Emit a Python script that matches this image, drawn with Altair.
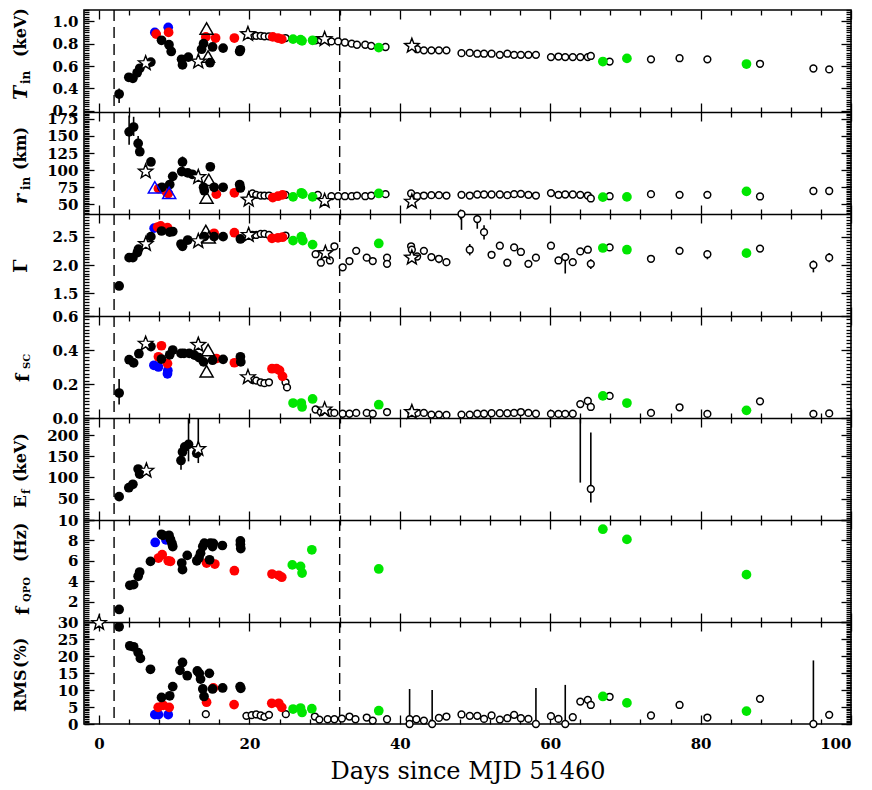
import altair as alt
import pandas as pd
import numpy as np

# ---------------- data ----------------
X_DOMAIN = [-2, 100]
DASHED_DAYS = [2, 32]
X_MAJOR = [0, 20, 40, 60, 80, 100]
X_MINOR = [d for d in range(0, 101, 4) if d % 20]

# T_in (keV)
TIN_K = [(2.67, 0.35), (3.96, 0.50), (4.5, 0.49), (5.07, 0.54), (5.42, 0.58), (6.89, 0.635),
         (8.31, 0.83), (9.3, 0.79), (9.6, 0.73), (10.98, 0.66), (11.1, 0.61), (11.87, 0.68),
         (13.64, 0.75), (13.9, 0.80), (14.76, 0.63), (15.1, 0.77), (16.5, 0.76), (18.7, 0.73), (18.8, 0.745)]
TIN_R = [(7.6, 0.885), (9.25, 0.90), (14.2, 0.86), (15.5, 0.85), (18.0, 0.85), (23.1, 0.86), (23.8, 0.85), (24.3, 0.84)]
TIN_B = [(7.42, 0.90), (9.2, 0.945)]
TIN_G = [(25.8, 0.84), (26.8, 0.835), (27.0, 0.825), (28.4, 0.83), (37.2, 0.765), (67.0, 0.64), (70.2, 0.668), (86.1, 0.618)]
TIN_O = [(20.4, 0.87), (20.9, 0.87), (21.5, 0.87), (22.0, 0.865), (22.6, 0.865), (24.8, 0.85), (28.8, 0.83), (29.5, 0.83),
         (30.9, 0.82), (31.8, 0.82), (32.7, 0.81), (33.6, 0.80), (34.3, 0.79), (35.4, 0.79), (36.2, 0.78), (38.1, 0.77),
         (42.3, 0.75), (43.2, 0.74), (44.2, 0.74), (45.2, 0.74), (46.2, 0.74), (48.2, 0.715), (49.3, 0.717), (50.3, 0.71),
         (51.2, 0.71), (52.2, 0.71), (53.3, 0.70), (54.3, 0.71), (55.2, 0.70), (56.1, 0.70), (57.1, 0.70), (58.1, 0.70),
         (60.1, 0.68), (61.1, 0.685), (62.0, 0.68), (63.0, 0.68), (64.0, 0.68), (65.0, 0.68), (65.4, 0.69), (67.9, 0.64),
         (73.4, 0.66), (77.2, 0.67), (80.9, 0.66), (87.9, 0.62), (95.0, 0.578), (97.1, 0.57)]
TIN_S = [(6.2, 0.625), (13.2, 0.64), (19.8, 0.885), (30.0, 0.84), (41.6, 0.78)]
TIN_T = [(14.3, 0.935), (14.5, 0.685)]
TIN_TB = []
TIN_ERR = [(2.67, 0.27, 0.40)]

# r_in (km)
RIN_K = [(4.0, 156), (4.6, 163), (5.2, 139), (5.42, 127), (6.9, 112), (8.36, 75), (9.4, 79), (9.8, 91),
         (11.0, 98), (11.1, 112), (11.8, 96), (12.4, 94), (13.9, 75), (14.0, 70), (14.8, 105), (15.3, 75),
         (16.5, 75), (18.7, 79), (18.8, 74)]
RIN_R = [(7.9, 73), (8.96, 68), (9.2, 66), (15.6, 65), (18.0, 67), (23.1, 60), (23.8, 62), (24.4, 64)]
RIN_B = []
RIN_G = [(25.8, 61), (26.9, 67), (27.1, 65), (28.4, 61), (37.2, 66), (67.0, 60.6), (70.2, 61), (86.1, 69)]
RIN_O = [(20.4, 66), (20.9, 64), (21.5, 63), (22.0, 63), (22.6, 63), (24.8, 64), (29.1, 64), (30.9, 62), (31.8, 62),
         (32.7, 62), (33.6, 62), (34.3, 63), (35.4, 62), (36.2, 63), (38.1, 65), (41.5, 66), (42.3, 62), (43.2, 63),
         (44.2, 63.5), (45.2, 63.5), (46.2, 63), (48.2, 64), (49.3, 63), (50.3, 64.5), (51.2, 64.5), (52.2, 64.5),
         (53.3, 64.5), (54.3, 63.5), (55.2, 65), (56.1, 65.5), (57.1, 64), (58.1, 63), (60.1, 66.5), (61.1, 64),
         (62.0, 64.5), (63.0, 64.5), (64.0, 64), (65.0, 63), (65.4, 58.7), (67.9, 62), (73.4, 65), (77.2, 64),
         (80.9, 64), (87.9, 61.6), (95.0, 69.6), (97.1, 69.6)]
RIN_S = [(6.2, 98), (13.2, 90), (19.9, 57), (30.0, 55), (41.6, 54)]
RIN_T = [(14.3, 60), (14.6, 86)]
RIN_TB = [(7.42, 75), (9.33, 67)]
RIN_ERR = [(4.0, 137, 180), (4.6, 150, 178), (5.2, 128, 150), (11.1, 104, 120)]

# Photon index Gamma
GAM_K = [(2.67, 1.63), (4.0, 2.13), (4.5, 2.13), (5.1, 2.22), (5.24, 2.28), (6.89, 2.50), (8.31, 2.60), (9.4, 2.58),
         (9.8, 2.59), (10.9, 2.37), (11.1, 2.33), (11.8, 2.44), (14.0, 2.50), (15.3, 2.50), (16.5, 2.50), (18.8, 2.46)]
GAM_R = [(7.8, 2.67), (8.2, 2.69), (9.1, 2.66), (15.3, 2.56), (18.0, 2.57), (23.0, 2.47), (23.8, 2.48), (24.4, 2.49)]
GAM_B = [(7.33, 2.65)]
GAM_G = [(25.8, 2.43), (26.9, 2.50), (27.1, 2.43), (28.4, 2.36), (37.2, 2.38), (67.0, 2.30), (70.2, 2.27), (86.1, 2.21)]
GAM_O = [(20.4, 2.53), (20.9, 2.53), (21.5, 2.55), (22.0, 2.55), (22.6, 2.53), (24.8, 2.52), (28.8, 2.19), (29.5, 2.04),
         (30.7, 2.08), (31.3, 2.33), (32.4, 1.96), (33.3, 2.07), (34.2, 2.25), (35.6, 2.13), (36.4, 2.07), (38.3, 2.13),
         (38.3, 2.02), (41.5, 2.33), (41.6, 2.27), (42.3, 2.15), (43.2, 2.25), (44.2, 2.14), (45.2, 2.11), (46.2, 2.05),
         (48.2, 2.90), (49.3, 2.27), (50.3, 2.81), (51.2, 2.58), (52.2, 2.18), (53.3, 2.34), (54.3, 2.04), (55.2, 2.31),
         (56.1, 2.23), (57.1, 2.02), (58.1, 2.13), (60.1, 2.34), (61.1, 2.08), (62.0, 2.14), (63.0, 2.05), (64.0, 2.24),
         (65.0, 2.27), (65.4, 2.02), (67.9, 2.31), (73.4, 2.11), (77.2, 2.25), (80.9, 2.19), (87.9, 2.29), (95.0, 2.00),
         (97.1, 2.13)]
GAM_S = [(6.22, 2.37), (13.2, 2.42), (19.9, 2.53), (30.1, 2.21), (41.6, 2.13)]
GAM_T = [(14.2, 2.60), (14.6, 2.49)]
GAM_TB = []
GAM_ERR = [(32.4, 1.90, 2.02), (45.2, 2.03, 2.17), (46.2, 1.98, 2.12), (48.2, 2.62, 2.92), (49.3, 2.17, 2.37),
           (50.3, 2.64, 2.90), (51.2, 2.45, 2.70), (62.0, 1.85, 2.20), (65.4, 1.93, 2.10), (77.2, 2.19, 2.32),
           (80.9, 2.10, 2.26), (95.0, 1.87, 2.08), (97.1, 2.05, 2.21)]

# scattered fraction f_SC
FSC_K = [(2.67, 0.147), (4.0, 0.343), (4.6, 0.324), (5.3, 0.378), (6.9, 0.42), (8.3, 0.347), (9.4, 0.372),
         (9.8, 0.40), (10.9, 0.38), (11.3, 0.38), (12.0, 0.38), (12.7, 0.37), (13.3, 0.355), (13.9, 0.33),
         (15.1, 0.34), (16.5, 0.345), (18.8, 0.36), (18.85, 0.33)]
FSC_R = [(7.9, 0.36), (8.3, 0.425), (9.1, 0.32), (15.6, 0.35), (18.0, 0.325), (23.0, 0.29), (23.6, 0.29), (24.0, 0.28), (24.4, 0.245)]
FSC_B = [(7.3, 0.31), (7.9, 0.30), (9.1, 0.26), (9.15, 0.28)]
FSC_G = [(25.8, 0.088), (26.9, 0.088), (27.0, 0.065), (28.4, 0.112), (37.2, 0.078), (67.0, 0.13), (70.2, 0.088), (86.1, 0.045)]
FSC_O = [(20.4, 0.225), (20.9, 0.22), (21.5, 0.21), (22.0, 0.205), (22.6, 0.21), (24.8, 0.21), (25.0, 0.18), (28.8, 0.05),
         (29.5, 0.035), (30.7, 0.03), (31.3, 0.03), (32.4, 0.025), (33.3, 0.025), (34.2, 0.03), (35.6, 0.03), (36.4, 0.025),
         (38.3, 0.035), (41.5, 0.035), (42.3, 0.03), (43.2, 0.03), (44.2, 0.02), (45.2, 0.02), (46.2, 0.018), (48.2, 0.02),
         (49.3, 0.02), (50.3, 0.025), (51.2, 0.025), (52.2, 0.028), (53.3, 0.028), (54.3, 0.028), (55.2, 0.03), (56.1, 0.035),
         (57.1, 0.03), (58.1, 0.025), (60.1, 0.024), (61.1, 0.024), (62.0, 0.024), (63.0, 0.025), (64.0, 0.082), (65.0, 0.10),
         (65.4, 0.065), (67.9, 0.13), (73.4, 0.03), (77.2, 0.063), (80.9, 0.024), (87.9, 0.098), (95.0, 0.024), (97.1, 0.027)]
FSC_S = [(6.2, 0.437), (13.2, 0.43), (19.8, 0.24), (30.0, 0.05), (41.6, 0.035)]
FSC_T = [(14.5, 0.40), (14.3, 0.275)]
FSC_TB = []
FSC_ERR = [(2.67, 0.08, 0.23)]

# folding energy E_f (keV)
EF_K = [(2.67, 55), (3.96, 76), (4.5, 84), (5.2, 120), (5.4, 108), (10.9, 140), (11.1, 160), (11.4, 172), (11.9, 178), (13.0, 157)]
EF_R = []
EF_B = []
EF_G = []
EF_O = [(65.4, 73)]
EF_S = [(6.3, 116), (13.2, 167)]
EF_T = []
EF_TB = []
EF_ERR = [(10.9, 118, 160), (11.9, 138, 300), (13.2, 134, 300), (64.0, 88, 300), (65.4, 41, 206)]

# QPO frequency (Hz)
QPO_K = [(2.67, 1.23), (4.1, 3.6), (4.6, 3.66), (5.2, 4.48), (5.4, 4.9), (6.84, 5.94), (8.3, 8.6), (8.5, 8.5),
         (9.3, 8.5), (9.5, 8.1), (9.7, 7.7), (9.8, 7.4), (11.0, 5.78), (11.1, 5.13), (11.73, 6.53), (13.0, 6.0),
         (13.3, 6.3), (13.5, 6.75), (13.8, 7.4), (14.0, 7.73), (14.7, 6.1), (14.8, 7.73), (15.1, 7.4), (15.2, 7.7),
         (16.4, 7.5), (18.8, 7.95), (18.8, 7.6), (18.85, 7.2)]
QPO_R = [(7.9, 6.27), (8.4, 6.6), (9.2, 6.0), (9.5, 5.94), (14.3, 5.78), (15.4, 5.68), (18.0, 5.03), (23.0, 4.7), (23.9, 4.58), (24.3, 4.39)]
QPO_B = [(7.47, 7.8), (8.9, 8.05)]
QPO_G = [(25.7, 5.6), (26.8, 5.45), (27.0, 4.8), (28.3, 7.08), (37.2, 5.2), (67.0, 9.1), (70.2, 8.1), (86.1, 4.64)]
QPO_O = []
QPO_S = []
QPO_T = []
QPO_TB = []
QPO_ERR = []

# RMS (%)
RMS_K = [(2.67, 28.6), (4.09, 23.0), (4.6, 22.7), (5.2, 21.0), (5.5, 19.3), (6.84, 16.1), (8.31, 7.8), (9.4, 8.3),
         (9.8, 11.0), (10.76, 15.8), (11.1, 18.1), (11.73, 14.2), (13.07, 15.6), (13.33, 14.9), (13.5, 13.2),
         (13.8, 10.3), (13.96, 8.1), (14.67, 14.9), (15.1, 10.3), (16.44, 10.6), (18.76, 11.0), (18.85, 10.5)]
RMS_R = [(7.87, 4.9), (8.53, 5.5), (9.33, 4.9), (14.3, 6.4), (15.2, 10.6), (17.96, 5.7), (22.97, 6.1), (23.9, 6.1), (24.3, 4.9)]
RMS_B = [(7.42, 2.75), (7.9, 2.75), (9.2, 2.75)]
RMS_G = [(25.8, 4.4), (26.8, 4.7), (27.0, 3.4), (28.3, 4.5), (37.2, 3.9), (67.0, 8.1), (70.2, 6.2), (86.1, 3.8)]
RMS_O = [(14.2, 2.9), (19.6, 2.4), (20.3, 2.6), (20.9, 2.8), (21.5, 2.5), (22.0, 2.1), (22.6, 2.7), (24.84, 2.9),
         (28.7, 2.2), (29.3, 1.3), (30.4, 1.4), (31.3, 1.4), (32.3, 1.6), (33.3, 2.2), (34.1, 1.4), (35.6, 1.9),
         (36.4, 1.0), (38.3, 1.4), (41.3, 1.4), (41.3, 0.0), (42.2, 1.4), (43.2, 1.0), (44.3, 0.0), (45.2, 1.8),
         (46.2, 2.2), (48.2, 2.8), (49.3, 2.4), (50.3, 2.4), (51.2, 1.5), (52.2, 2.5), (53.3, 1.3), (54.3, 1.7),
         (55.2, 2.7), (56.1, 1.7), (57.1, 1.5), (58.1, 0.0), (60.1, 2.3), (61.1, 1.5), (62.0, 0.0), (63.0, 2.0),
         (64.0, 6.6), (65.0, 7.1), (65.4, 5.6), (67.9, 8.0), (73.4, 2.5), (77.2, 5.6), (80.9, 1.9), (87.9, 7.4),
         (95.0, 0.0), (97.1, 2.7)]
RMS_S = [(0.0, 29.7)]
RMS_T = []
RMS_TB = []
RMS_ERR = [(24.84, 2.0, 3.8), (41.3, 0.0, 10.3), (44.3, 0.0, 10.0), (58.1, 0.0, 10.6), (62.0, 0.0, 11.5),
           (80.9, 1.0, 2.8), (95.0, 0.0, 18.7)]

# ---------------- styling ----------------
W, H = 767, 102
NP = 7
HT = NP * H
FONT = "DejaVu Serif"
FILL_DOMAIN = ["b", "r", "g", "k"]
FILL_RANGE = ["#0000ff", "#ff0000", "#00e600", "#000000"]
TRI_DOMAIN = ["t", "tb"]
TRI_RANGE = ["#000000", "#0000ff"]
XS = alt.Scale(domain=X_DOMAIN, nice=False, zero=False)
# five-pointed star symbol (unit square path)
STAR = ("M0,-1L0.247,-0.34L0.951,-0.309L0.4,0.13L0.588,0.809L0,0.42L-0.588,0.809L-0.4,0.13"
        "L-0.951,-0.309L-0.247,-0.34Z")


def to_df(pairs, code):
    return pd.DataFrame({"day": [p[0] for p in pairs], "v": [p[1] for p in pairs], "grp": [code] * len(pairs)})


def tick_vals(step, dom, start):
    vals = np.round(np.arange(start, dom[1] + step / 2, step), 6)
    return [float(v) for v in vals if dom[0] - 1e-9 <= v <= dom[1] + 1e-9]


def tick_axis(orient, values, size, offset, domain=False):
    if domain:
        kw = dict(domain=True, domainColor="black", domainWidth=1.6)
    else:
        kw = dict(domain=False)
    return alt.Axis(orient=orient, values=values, tickSize=size, offset=offset, labels=False,
                    grid=False, title=None, ticks=True, tickColor="black", tickWidth=1.3, **kw)


DUMMY_X = pd.DataFrame({"day": [X_DOMAIN[0]]})


def xaxis_layer(axis):
    return alt.Chart(DUMMY_X).mark_point(opacity=0).encode(x=alt.X("day:Q", scale=XS, axis=axis))


def panel_layers(i, k, r, b, g, o, s, t, tb, errs, ydom, ystep, ystart, ylabels, fmt, title_parts):
    top, bot = i * H, (i + 1) * H
    ys = alt.Scale(domain=ydom, range=[bot, top], nice=False, zero=False)
    X = alt.X("day:Q", scale=XS, axis=None)
    Y = alt.Y("v:Q", scale=ys, axis=None)
    layers = []

    if errs:
        edf = pd.DataFrame(errs, columns=["day", "lo", "hi"])
        edf["lo"] = edf["lo"].clip(ydom[0], ydom[1])
        edf["hi"] = edf["hi"].clip(ydom[0], ydom[1])
        layers.append(alt.Chart(edf).mark_rule(color="black", strokeWidth=1.6).encode(
            x=X, y=alt.Y("lo:Q", scale=ys, axis=None), y2="hi:Q"))

    if o:
        layers.append(alt.Chart(to_df(o, "o")).mark_point(
            shape="circle", filled=True, fill="white", stroke="black", strokeWidth=1.5,
            size=46, opacity=1).encode(x=X, y=Y))

    fdf = pd.concat([to_df(b, "b"), to_df(r, "r"), to_df(g, "g"), to_df(k, "k")], ignore_index=True)
    fdf["rank"] = np.arange(len(fdf))
    layers.append(alt.Chart(fdf).mark_point(shape="circle", filled=True, size=95, opacity=1, strokeWidth=0).encode(
        x=X, y=Y,
        color=alt.Color("grp:N", scale=alt.Scale(domain=FILL_DOMAIN, range=FILL_RANGE), legend=None),
        order=alt.Order("rank:Q")))

    if t or tb:
        tdf = pd.concat([to_df(tb, "tb"), to_df(t, "t")], ignore_index=True)
        layers.append(alt.Chart(tdf).mark_point(shape="triangle-up", filled=False, strokeWidth=1.5,
                                                size=170, opacity=1).encode(
            x=X, y=Y,
            stroke=alt.Stroke("grp:N", scale=alt.Scale(domain=TRI_DOMAIN, range=TRI_RANGE), legend=None)))

    if s:
        layers.append(alt.Chart(to_df(s, "s")).mark_point(
            shape=STAR, filled=True, fill="white", stroke="black", strokeWidth=1.4,
            size=230, opacity=1).encode(x=X, y=Y))

    # y ticks (inward, both sides) and labels
    dummy = pd.DataFrame({"day": [X_DOMAIN[0]], "v": [ydom[0]]})

    def yaxis_layer(axis):
        return alt.Chart(dummy).mark_point(opacity=0).encode(
            x=alt.X("day:Q", scale=XS, axis=None), y=alt.Y("v:Q", scale=ys, axis=axis))

    ymaj = tick_vals(ystep, ydom, ystart)
    ymin = tick_vals(ystep / 10.0, ydom, ystart - ystep * 2)
    layers += [
        yaxis_layer(tick_axis("left", ymin, 5, -5)),
        yaxis_layer(tick_axis("left", ymaj, 10, -10)),
        yaxis_layer(tick_axis("right", ymin, 5, -5)),
        yaxis_layer(tick_axis("right", ymaj, 10, -10)),
        yaxis_layer(alt.Axis(orient="left", values=ylabels, ticks=False, tickSize=0, domain=False, grid=False,
                             title=None, labelFont=FONT, labelFontSize=15, labelFontWeight="bold",
                             labelPadding=6, labelColor="black", labelOverlap=False, format=fmt)),
    ]

    one = pd.DataFrame({"a": [0]})
    for txt, ystart_px, xrel, size, style, weight in title_parts:
        layers.append(alt.Chart(one).mark_text(
            text=txt, angle=270, align="left", baseline="middle", font=FONT, fontSize=size,
            fontStyle=style, fontWeight=weight, color="black").encode(
            x=alt.value(xrel), y=alt.value(top + ystart_px)))
    return layers


all_layers = []
# dashed vertical lines through every panel
all_layers.append(alt.Chart(pd.DataFrame({"day": DASHED_DAYS})).mark_rule(
    color="black", strokeWidth=1.4, strokeDash=[11, 6]).encode(x=alt.X("day:Q", scale=XS, axis=None)))

all_layers += panel_layers(0, TIN_K, TIN_R, TIN_B, TIN_G, TIN_O, TIN_S, TIN_T, TIN_TB, TIN_ERR,
                           [0.19, 1.1], 0.2, 0.2, [0.2, 0.4, 0.6, 0.8, 1.0], ".1f",
                           [("T", 90, -63, 19, "italic", "bold"), ("in", 74, -58, 12, "normal", "bold"),
                            ("(keV)", 47, -63, 16, "normal", "bold")])
all_layers += panel_layers(1, RIN_K, RIN_R, RIN_B, RIN_G, RIN_O, RIN_S, RIN_T, RIN_TB, RIN_ERR,
                           [36, 185], 25, 50, [50, 75, 100, 125, 150, 175], "d",
                           [("r", 92, -63, 19, "italic", "bold"), ("in", 78, -58, 12, "normal", "bold"),
                            ("(km)", 58, -63, 16, "normal", "bold")])
all_layers += panel_layers(2, GAM_K, GAM_R, GAM_B, GAM_G, GAM_O, GAM_S, GAM_T, GAM_TB, GAM_ERR,
                           [1.1, 2.9], 0.5, 1.5, [1.5, 2.0, 2.5], ".1f",
                           [("Γ", 59, -63, 19, "normal", "bold")])
all_layers += panel_layers(3, FSC_K, FSC_R, FSC_B, FSC_G, FSC_O, FSC_S, FSC_T, FSC_TB, FSC_ERR,
                           [0.0, 0.6], 0.2, 0.0, [0.0, 0.2, 0.4, 0.6], ".1f",
                           [("f", 66, -61, 19, "normal", "bold"), ("SC", 53, -57, 10, "normal", "bold")])
all_layers += panel_layers(4, EF_K, EF_R, EF_B, EF_G, EF_O, EF_S, EF_T, EF_TB, EF_ERR,
                           [0, 240], 50, 0, [50, 100, 150, 200], "d",
                           [("E", 90, -63, 17, "normal", "bold"), ("f", 76, -57, 11, "normal", "bold"),
                            ("(keV)", 64, -63, 16, "normal", "bold")])
all_layers += panel_layers(5, QPO_K, QPO_R, QPO_B, QPO_G, QPO_O, QPO_S, QPO_T, QPO_TB, QPO_ERR,
                           [0, 10], 2, 0, [2, 4, 6, 8, 10], "d",
                           [("f", 95, -61, 19, "normal", "bold"), ("QPO", 82, -57, 10, "normal", "bold"),
                            ("(Hz)", 42, -63, 16, "normal", "bold")])
all_layers += panel_layers(6, RMS_K, RMS_R, RMS_B, RMS_G, RMS_O, RMS_S, RMS_T, RMS_TB, RMS_ERR,
                           [0, 30], 5, 0, [0, 5, 10, 15, 20, 25, 30], "d",
                           [("RMS", 90, -63, 16, "normal", "bold"), ("(%)", 46, -63, 16, "normal", "bold")])

# x ticks: outer top and bottom edges (inward)
all_layers += [
    xaxis_layer(tick_axis("top", X_MINOR, 5, -5)),
    xaxis_layer(tick_axis("top", X_MAJOR, 9, -9)),
    xaxis_layer(tick_axis("bottom", X_MINOR, 5, -5)),
    xaxis_layer(tick_axis("bottom", X_MAJOR, 9, -9)),
]
# panel boundaries: a frame line with ticks pointing into both neighbouring panels
for j in range(1, NP):
    yb = j * H
    all_layers += [
        xaxis_layer(tick_axis("bottom", X_MAJOR, 9, -(HT - yb), domain=True)),
        xaxis_layer(tick_axis("bottom", X_MINOR, 5, -(HT - yb))),
        xaxis_layer(tick_axis("top", X_MAJOR, 9, -yb)),
        xaxis_layer(tick_axis("top", X_MINOR, 5, -yb)),
    ]
# bottom labels and title
all_layers.append(xaxis_layer(alt.Axis(
    orient="bottom", values=X_MAJOR, ticks=False, tickSize=0, domain=False, grid=False,
    labelFont=FONT, labelFontSize=15, labelFontWeight="bold", labelPadding=12, labelColor="black",
    labelOverlap=False, format="d", title="Days since MJD 51460", titleFont=FONT, titleFontSize=24,
    titleFontWeight="normal", titleColor="black", titlePadding=8)))

chart = alt.layer(*all_layers).resolve_scale(y="independent").resolve_axis(
    x="independent", y="independent").properties(
    width=W, height=HT, padding={"left": 4, "top": 0, "right": 5, "bottom": 2}, background="white"
).configure_view(stroke="black", strokeWidth=1.6)

chart.save("out.html", embed_options={"renderer": "svg", "actions": False})
